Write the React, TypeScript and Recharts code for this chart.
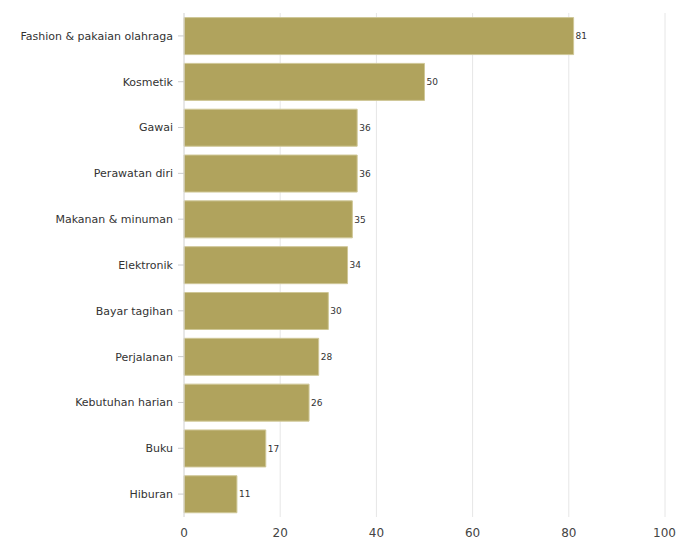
import { BarChart, Bar, XAxis, YAxis, CartesianGrid, LabelList } from "recharts";

const categories = [
  "Fashion & pakaian olahraga",
  "Kosmetik",
  "Gawai",
  "Perawatan diri",
  "Makanan & minuman",
  "Elektronik",
  "Bayar tagihan",
  "Perjalanan",
  "Kebutuhan harian",
  "Buku",
  "Hiburan",
];
const values = [81, 50, 36, 36, 35, 34, 30, 28, 26, 17, 11];
const xTicks = [0, 20, 40, 60, 80, 100];

const data = categories.map((name, i) => ({ name, value: values[i] }));

const FONT = "Verdana, 'DejaVu Sans', sans-serif";

export default function App() {
  return (
    <div style={{ position: "absolute", left: 0, top: 0 }}>
      <BarChart
        width={676}
        height={542}
        data={data}
        layout="vertical"
        margin={{ top: 13, right: 11, bottom: 0, left: 0 }}
        barCategoryGap="10%"
      >
        <CartesianGrid horizontal={false} stroke="#e6e6e6" />
        <XAxis
          type="number"
          domain={[0, 100]}
          ticks={xTicks}
          axisLine={false}
          tickLine={false}
          tickMargin={5}
          height={25}
          tick={{ fontSize: 12, fill: "#444", fontFamily: FONT }}
        />
        <YAxis
          type="category"
          dataKey="name"
          width={184}
          axisLine={{ stroke: "#dcdcdc" }}
          tickLine={{ stroke: "#cccccc" }}
          tickSize={6}
          tickMargin={5}
          tick={{ fontSize: 11, fill: "#333", fontFamily: FONT }}
        />
        <Bar dataKey="value" fill="#b0a35d" stroke="#cfc797" strokeWidth={1} isAnimationActive={false}>
          <LabelList dataKey="value" position="right" offset={2} style={{ fontSize: 9, fill: "#333", fontFamily: FONT }} />
        </Bar>
      </BarChart>
    </div>
  );
}
